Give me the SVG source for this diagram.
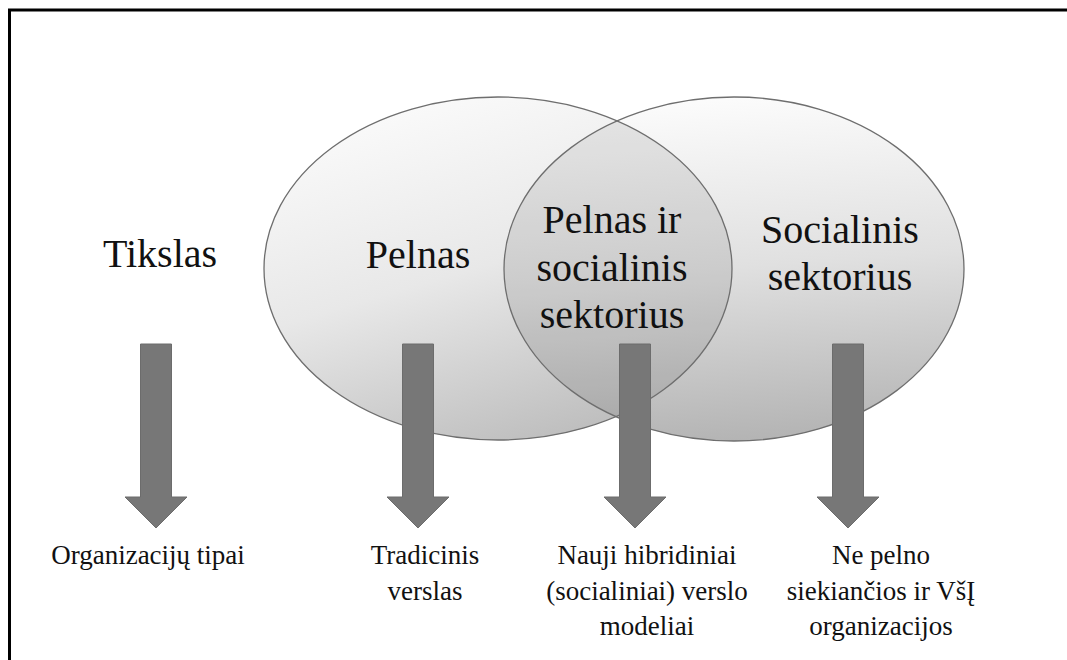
<svg xmlns="http://www.w3.org/2000/svg" width="1067" height="660" viewBox="0 0 1067 660">
  <defs>
    <linearGradient id="gL" x1="0.25" y1="0" x2="0.65" y2="1">
      <stop offset="0" stop-color="#fbfbfb"/>
      <stop offset="0.5" stop-color="#e8e8e8"/>
      <stop offset="1" stop-color="#bdbdbd"/>
    </linearGradient>
    <linearGradient id="gR" x1="0.4" y1="0" x2="0.5" y2="1">
      <stop offset="0" stop-color="#fcfcfc"/>
      <stop offset="0.5" stop-color="#e0e0e0"/>
      <stop offset="1" stop-color="#b4b4b4"/>
    </linearGradient>
    <clipPath id="clipR">
      <ellipse cx="734" cy="269" rx="230" ry="172"/>
    </clipPath>
    <path id="arrow" d="M-15.5,0 H15.5 V153 H31 L0,184 L-31,153 H-15.5 Z"/>
  </defs>
  <style>
    .frame { stroke:#000; stroke-width:3; fill:none; }
    .ell { stroke:#6e6e6e; stroke-width:1.3; fill:none; }
    .big { font-family:"Liberation Serif","Times New Roman",serif; font-size:40px; fill:#111; text-anchor:middle; }
    .small { font-family:"Liberation Serif","Times New Roman",serif; font-size:27px; fill:#111; text-anchor:middle; }
    .arr { fill:#777777; stroke:#6c6c6c; stroke-width:1; }
  </style>
  <rect width="1067" height="660" fill="#ffffff"/>
  <path class="frame" d="M9.5,660 V10 H1067"/>

  <g id="ellipse-pelnas">
    <ellipse cx="498" cy="268.5" rx="234" ry="171.5" fill="url(#gL)"/>
  </g>
  <g id="ellipse-socialinis">
    <ellipse cx="734" cy="269" rx="230" ry="172" fill="url(#gR)"/>
  </g>
  <g id="lens">
    <ellipse cx="498" cy="268.5" rx="234" ry="171.5" fill="#000" fill-opacity="0.085" clip-path="url(#clipR)"/>
    <ellipse class="ell" cx="498" cy="268.5" rx="234" ry="171.5"/>
    <ellipse class="ell" cx="734" cy="269" rx="230" ry="172"/>
  </g>

  <g id="node-tikslas">
    <text class="big" x="160" y="267">Tikslas</text>
  </g>
  <g id="node-pelnas">
    <text class="big" x="418" y="268">Pelnas</text>
  </g>
  <g id="node-pelnas-ir-socialinis">
    <text class="big" x="612" y="233">Pelnas ir</text>
    <text class="big" x="612" y="281">socialinis</text>
    <text class="big" x="612" y="328">sektorius</text>
  </g>
  <g id="node-socialinis">
    <text class="big" x="840" y="243">Socialinis</text>
    <text class="big" x="840" y="290">sektorius</text>
  </g>

  <g id="connectors">
    <use href="#arrow" class="arr" x="156" y="344"/>
    <use href="#arrow" class="arr" x="418" y="344"/>
    <use href="#arrow" class="arr" x="635" y="344"/>
    <use href="#arrow" class="arr" x="848" y="344"/>
  </g>

  <g id="node-organizaciju-tipai">
    <text class="small" x="148" y="564">Organizacijų tipai</text>
  </g>
  <g id="node-tradicinis">
    <text class="small" x="425" y="564">Tradicinis</text>
    <text class="small" x="425" y="600">verslas</text>
  </g>
  <g id="node-hibridiniai">
    <text class="small" x="647" y="564">Nauji hibridiniai</text>
    <text class="small" x="647" y="600">(socialiniai) verslo</text>
    <text class="small" x="647" y="635">modeliai</text>
  </g>
  <g id="node-ne-pelno">
    <text class="small" x="881" y="564">Ne pelno</text>
    <text class="small" x="881" y="600">siekiančios ir VšĮ</text>
    <text class="small" x="881" y="635">organizacijos</text>
  </g>
</svg>
